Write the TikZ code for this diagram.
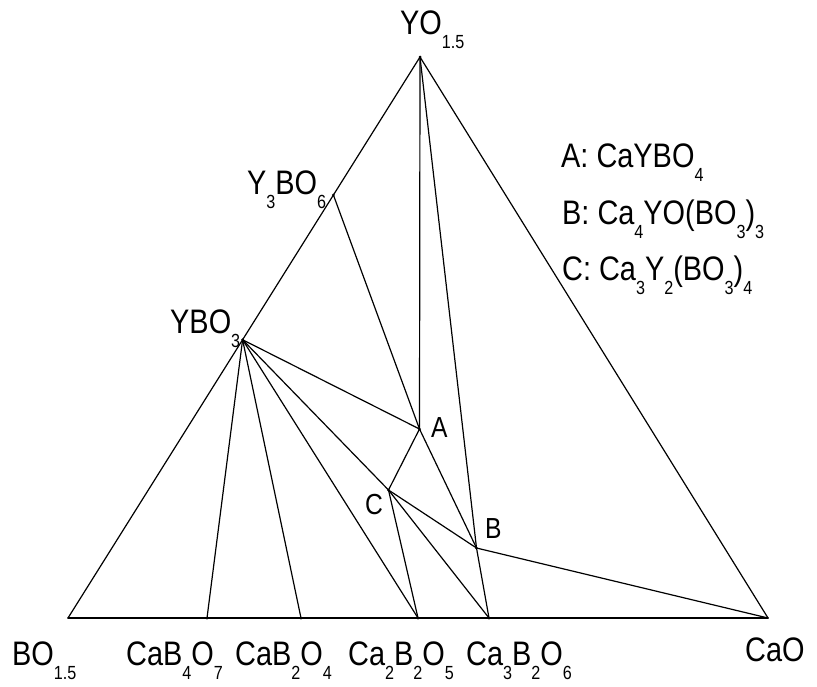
\documentclass[tikz,border=0pt]{standalone}
\usepackage{fontspec}
\setmainfont[FakeStretch=0.85]{Liberation Sans}
\usetikzlibrary{calc}
\newcommand\lsub[1]{\raisebox{-0.44em}{\fontsize{19}{19}\selectfont #1}}
\begin{document}
\begin{tikzpicture}[x=1pt,y=-1pt,
  edge/.style={line width=1.2pt, line cap=round, line join=round},
  lbl/.style={inner sep=0pt, anchor=base west, font=\fontsize{34}{34}\selectfont},
  abc/.style={inner sep=0pt, anchor=base west, font=\fontsize{29}{29}\selectfont},
  pt/.style={circle, fill=black, inner sep=0pt, minimum size=3pt}]
\useasboundingbox (0,0) rectangle (817,686);
\coordinate (BO) at (68,618);
\coordinate (CaO) at (768,618);
\coordinate (YO) at (420,57);
\coordinate (Y3) at ($(BO)!0.754!(YO)$);
\coordinate (YB) at ($(BO)!0.496!(YO)$);
\coordinate (C47) at (207,618);
\coordinate (C24) at (301,618);
\coordinate (C225) at (418,618);
\coordinate (C326) at (489,618);
\coordinate (A) at (419.5,429);
\coordinate (C) at (388.5,490);
\coordinate (B) at (476.5,548);
% triangle
\draw[edge] (BO) -- (YO) -- (CaO);
\draw[edge, line width=1.6pt] (BO) -- (CaO);
% tie lines
\draw[edge] (YO) -- (A);
\draw[edge] (YO) -- (B);
\draw[edge] (Y3) -- (A);
\draw[edge] (YB) -- (A);
\draw[edge] (YB) -- (C);
\draw[edge] (YB) -- (C225);
\draw[edge] (YB) -- (C24);
\draw[edge] (YB) -- (C47);
\draw[edge] (A) -- (C);
\draw[edge] (A) -- (B);
\draw[edge] (C) -- (B);
\draw[edge] (C) -- (C225);
\draw[edge] (C) -- (C326);
\draw[edge] (B) -- (C326);
\draw[edge] (B) -- (CaO);
% dots
\foreach \p in {YO,Y3,YB,A,B,C,C47,C24,C225,C326}
  \node[pt] (d\p) at (\p) {};
% labels
\node[lbl] (lYO) at (400,34) {YO\lsub{1.5}};
\node[lbl] (lY3) at (247,194) {Y\lsub{3}BO\lsub{6}};
\node[lbl] (lYB) at (170,333) {YBO\lsub{3}};
\node[abc] (lA) at (431,437) {A};
\node[abc] (lB) at (485,538) {B};
\node[abc] (lC) at (365,514) {C};
\node[lbl] (lBO) at (12,665) {BO\lsub{1.5}};
\node[lbl] (l47) at (126,665) {CaB\lsub{4}O\lsub{7}};
\node[lbl] (l24) at (235,665) {CaB\lsub{2}O\lsub{4}};
\node[lbl] (l225) at (348,665) {Ca\lsub{2}B\lsub{2}O\lsub{5}};
\node[lbl] (l326) at (466,665) {Ca\lsub{3}B\lsub{2}O\lsub{6}};
\node[lbl] (lCaO) at (745,661) {CaO};
% legend
\node[lbl] (legA) at (561,167) {A: CaYBO\lsub{4}};
\node[lbl] (legB) at (562,224) {B: Ca\lsub{4}YO(BO\lsub{3})\lsub{3}};
\node[lbl] (legC) at (562,280) {C: Ca\lsub{3}Y\lsub{2}(BO\lsub{3})\lsub{4}};
\end{tikzpicture}
\end{document}
